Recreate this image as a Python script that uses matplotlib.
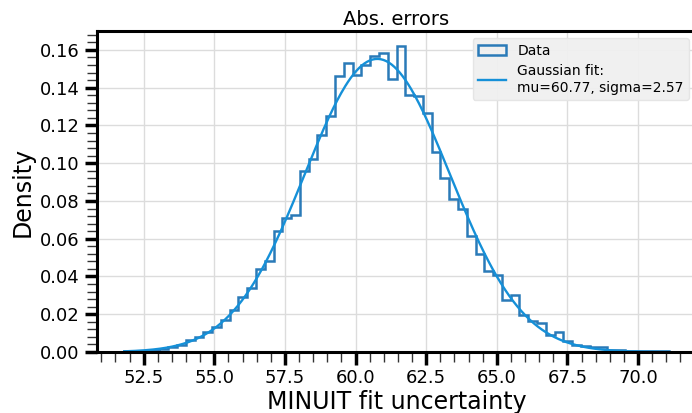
import numpy as np
import matplotlib
matplotlib.use("Agg")
import matplotlib.pyplot as plt
from matplotlib.ticker import MultipleLocator, AutoMinorLocator

# Histogram (density, 62 equal bins)
x_min = 51.81
x_max = 71.09
n_bins = 62
density = [
    0.0003, 0.0004, 0.0007, 0.0011, 0.0016, 0.0028, 0.0037, 0.0064, 0.0078, 0.0108,
    0.0134, 0.0169, 0.0222, 0.0292, 0.0341, 0.0442, 0.0482, 0.0639, 0.0711, 0.0727,
    0.0957, 0.1024, 0.1150, 0.1250, 0.1462, 0.1532, 0.1465, 0.1522, 0.1566, 0.1583,
    0.1447, 0.1619, 0.1359, 0.1356, 0.1266, 0.1059, 0.0921, 0.0812, 0.0755, 0.0613,
    0.0521, 0.0429, 0.0406, 0.0277, 0.0304, 0.0196, 0.0166, 0.0155, 0.0088, 0.0106,
    0.0056, 0.0039, 0.0032, 0.0027, 0.0024, 0.0012, 0.0009, 0.0006, 0.0004, 0.0003,
    0.0005, 0.0003,
]

# Gaussian fit parameters
mu = 60.77
sigma = 2.57

edges = np.linspace(x_min, x_max, n_bins + 1)
xs = np.linspace(x_min, x_max, 400)
pdf = np.exp(-0.5 * ((xs - mu) / sigma) ** 2) / (sigma * np.sqrt(2 * np.pi))

fig = plt.figure(figsize=(6.92, 4.13), dpi=100)
ax = fig.add_axes([0.1402, 0.1477, 0.8656, 0.7772])

ax.grid(True, which="major", color="#dcdcdc", linewidth=1.0)
ax.set_axisbelow(True)

# one weighted entry per bin -> step histogram with the read densities
ax.hist(edges[:-1], bins=edges, weights=density, histtype="step",
        color="#2a7ab8", linewidth=1.8, label="Data")
ax.plot(xs, pdf, color="#1590d8", linewidth=1.7,
        label=f"Gaussian fit:\nmu={mu:.2f}, sigma={sigma:.2f}")

ax.set_ylim(0, 0.17)
ax.margins(x=0.05)
ax.xaxis.set_major_locator(MultipleLocator(2.5))
ax.xaxis.set_minor_locator(AutoMinorLocator(5))
ax.yaxis.set_major_locator(MultipleLocator(0.02))
ax.yaxis.set_minor_locator(AutoMinorLocator(5))
ax.yaxis.set_major_formatter(plt.FormatStrFormatter("%.2f"))
ax.xaxis.set_major_formatter(plt.FormatStrFormatter("%.1f"))

ax.tick_params(which="major", length=9, width=2.5, labelsize=13)
ax.tick_params(which="minor", length=7, width=1.0, color="#333333")
for s in ax.spines.values():
    s.set_linewidth(2.2)

ax.set_title("Abs. errors", fontsize=14, pad=4)
ax.set_xlabel("MINUIT fit uncertainty", fontsize=17, labelpad=2)
ax.set_ylabel("Density", fontsize=17, labelpad=4)

leg = ax.legend(loc="upper right", fontsize=10, frameon=True, fancybox=True,
                facecolor="#f0f0f0", edgecolor="#e4e4e4", framealpha=0.95)

fig.savefig("out.png", dpi=100)
